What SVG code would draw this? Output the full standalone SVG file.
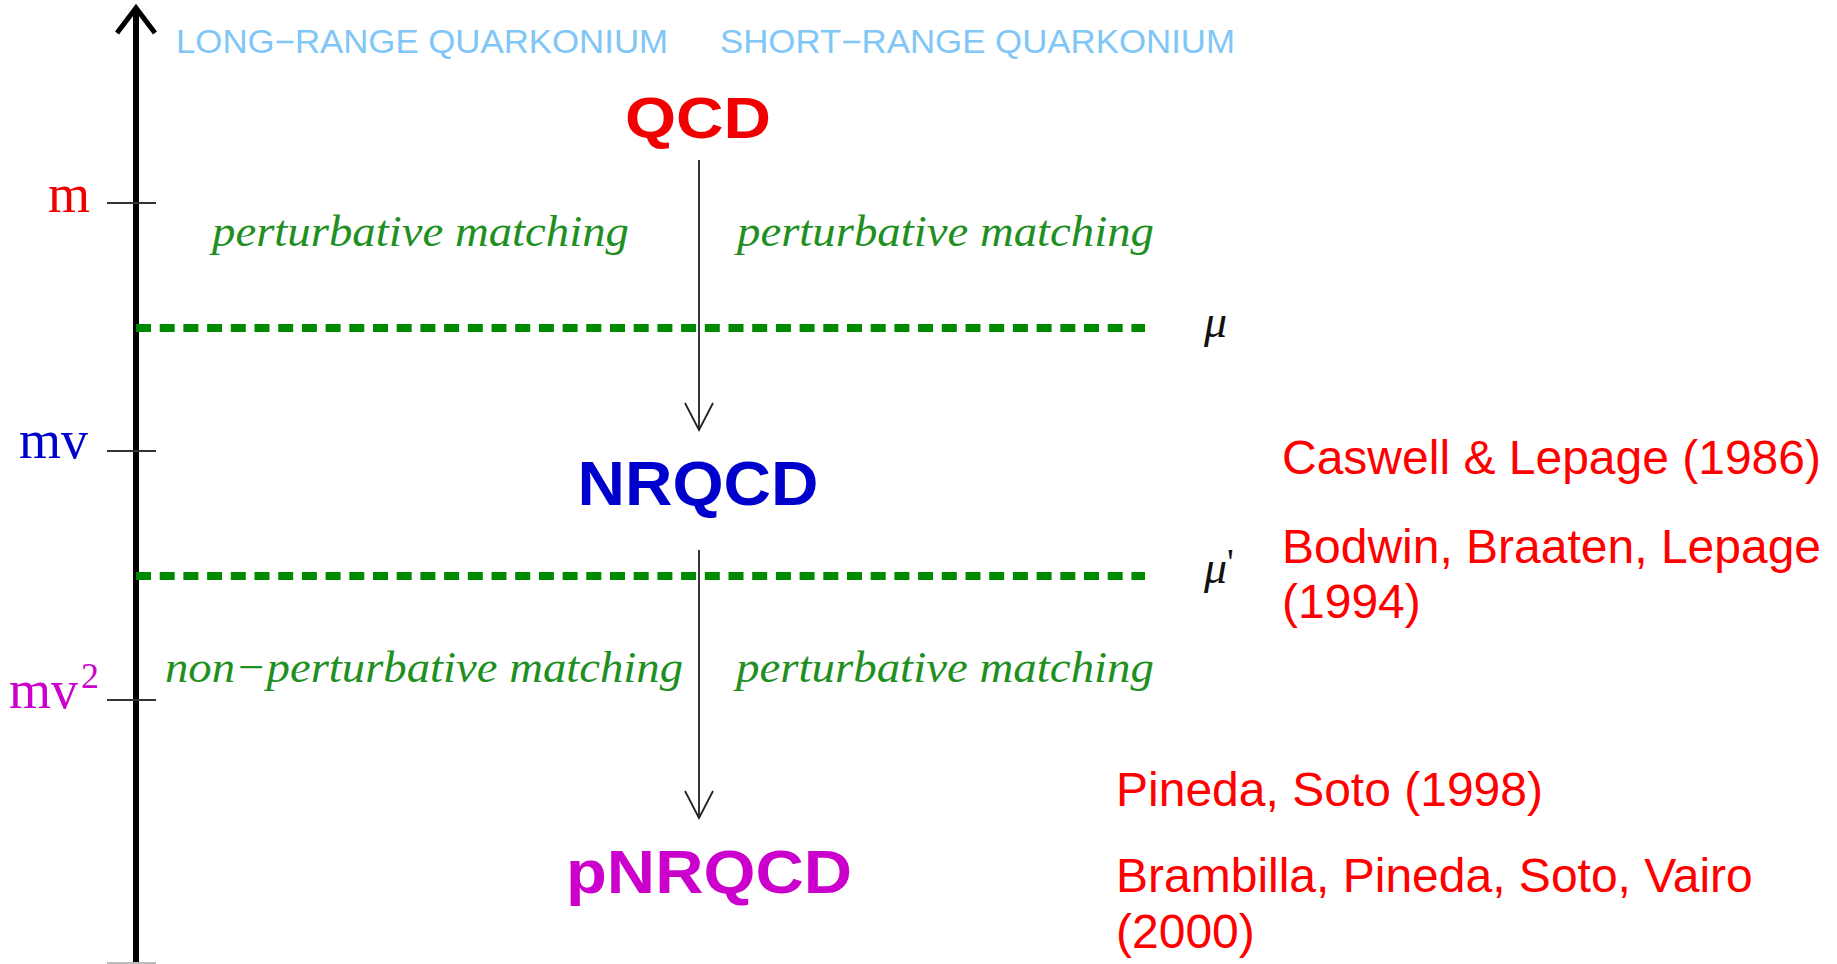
<svg xmlns="http://www.w3.org/2000/svg" width="1837" height="964" viewBox="0 0 1837 964">
<style>
.hdr{font-family:"Liberation Sans",Arial,sans-serif;font-size:33px;fill:#80c6f6}
.node{font-family:"Liberation Sans",Arial,sans-serif;font-weight:bold;text-anchor:middle}
.scale{font-family:"Liberation Serif","Times New Roman",serif;font-size:54px}
.match{font-family:"Liberation Serif","Times New Roman",serif;font-style:italic;font-size:44px;fill:#1f8f1f}
.ref{font-family:"Liberation Sans",Arial,sans-serif;font-size:48px;fill:#ff0000}
.mu{font-family:"Liberation Serif","Times New Roman",serif;font-style:italic;font-size:46px;fill:#111}
.tick{stroke:#333;stroke-width:2.2}
.dash{stroke:#008a00;stroke-width:8;stroke-dasharray:15 8.7;fill:none}
.conn{stroke:#222;stroke-width:1.8;fill:none}
</style>
<defs>
<marker id="vee" markerUnits="userSpaceOnUse" markerWidth="32" markerHeight="32" orient="auto" refX="0" refY="0" overflow="visible">
<path d="M-27,-14 L0,0 L-27,14" fill="none" stroke="#222" stroke-width="1.8"/>
</marker>
</defs>
<rect width="1837" height="964" fill="#ffffff"/>

<g id="axis">
<line x1="136" y1="9" x2="136" y2="964" stroke="#000" stroke-width="6"/>
<path d="M117,33 L136,8 L155,33" fill="none" stroke="#000" stroke-width="5" stroke-linejoin="miter"/>
<line class="tick" x1="107" y1="203" x2="156" y2="203"/>
<line class="tick" x1="107" y1="451" x2="156" y2="451"/>
<line class="tick" x1="107" y1="700" x2="156" y2="700"/>
<line x1="107" y1="963" x2="156" y2="963" stroke="#bbb" stroke-width="2"/>
<text class="scale" x="48" y="212" fill="#ee0000">m</text>
<text class="scale" x="19" y="458" fill="#0000cc">mv</text>
<text class="scale" x="9" y="708" fill="#cc00cc">mv<tspan font-size="36" dx="3" dy="-20">2</tspan></text>
</g>

<g id="headers">
<text class="hdr" x="176" y="53" textLength="492" lengthAdjust="spacingAndGlyphs">LONG−RANGE QUARKONIUM</text>
<text class="hdr" x="720" y="53" textLength="515" lengthAdjust="spacingAndGlyphs">SHORT−RANGE QUARKONIUM</text>
</g>

<g id="scales">
<line class="dash" x1="136" y1="328" x2="1145" y2="328"/>
<line class="dash" x1="136" y1="576" x2="1145" y2="576"/>
<text class="mu" x="1204" y="337">μ</text>
<text class="mu" x="1204" y="583">μ<tspan font-style="normal" font-size="38" dy="-8">'</tspan></text>
</g>

<g id="node-QCD">
<text class="node" x="698" y="138" font-size="58" fill="#f00000" textLength="146" lengthAdjust="spacingAndGlyphs">QCD</text>
</g>
<g id="node-NRQCD">
<text class="node" x="698" y="505" font-size="63" fill="#0000cc" textLength="241" lengthAdjust="spacingAndGlyphs">NRQCD</text>
</g>
<g id="node-pNRQCD">
<text class="node" x="709" y="893" font-size="61" fill="#cc00cc" textLength="286" lengthAdjust="spacingAndGlyphs">pNRQCD</text>
</g>

<g id="connectors">
<line class="conn" x1="699" y1="160" x2="699" y2="430" marker-end="url(#vee)"/>
<line class="conn" x1="699" y1="550" x2="699" y2="818" marker-end="url(#vee)"/>
</g>

<g id="matching-labels">
<text class="match" x="212" y="246" textLength="417" lengthAdjust="spacingAndGlyphs">perturbative matching</text>
<text class="match" x="737" y="246" textLength="417" lengthAdjust="spacingAndGlyphs">perturbative matching</text>
<text class="match" x="165" y="682" textLength="518" lengthAdjust="spacingAndGlyphs">non−perturbative matching</text>
<text class="match" x="736" y="682" textLength="418" lengthAdjust="spacingAndGlyphs">perturbative matching</text>
</g>

<g id="references">
<text class="ref" x="1282" y="474">Caswell &amp; Lepage (1986)</text>
<text class="ref" x="1282" y="563">Bodwin, Braaten, Lepage</text>
<text class="ref" x="1282" y="618">(1994)</text>
<text class="ref" x="1116" y="806">Pineda, Soto (1998)</text>
<text class="ref" x="1116" y="892">Brambilla, Pineda, Soto, Vairo</text>
<text class="ref" x="1116" y="948">(2000)</text>
</g>
</svg>
